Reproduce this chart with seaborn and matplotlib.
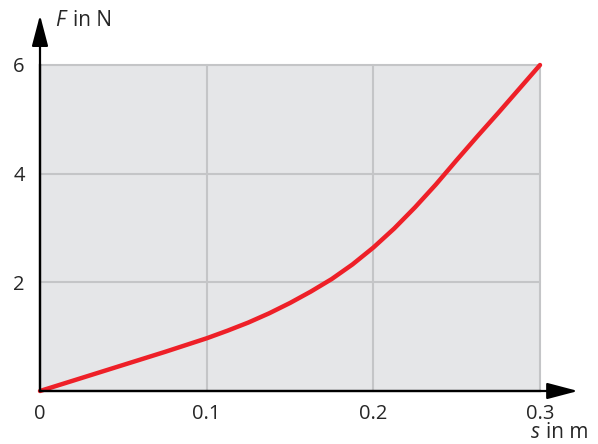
import numpy as np
import pandas as pd
import matplotlib
matplotlib.use("Agg")
import matplotlib.pyplot as plt
import seaborn as sns

# ── Data ───────────────────────────────────────────────────
s_values = [0.0, 0.025, 0.05, 0.075, 0.1, 0.1125, 0.125, 0.1375, 0.15, 0.1625,
            0.175, 0.1875, 0.2, 0.2125, 0.225, 0.2375, 0.25, 0.2625, 0.275,
            0.2875, 0.3]
f_values = [0.0, 0.24, 0.48, 0.72, 0.97, 1.11, 1.26, 1.43, 1.62, 1.83,
            2.06, 2.33, 2.64, 2.99, 3.38, 3.80, 4.25, 4.69, 5.12,
            5.56, 6.0]
x_ticks = [0.0, 0.1, 0.2, 0.3]
x_tick_labels = ["0", "0.1", "0.2", "0.3"]
y_ticks = [2, 4, 6]
y_tick_labels = ["2", "4", "6"]

df = pd.DataFrame({"s": s_values, "F": f_values})

sns.set_style("white", {"axes.facecolor": "#e5e6e8"})
plt.rcParams["font.family"] = ["Open Sans", "DejaVu Sans"]

fig = plt.figure(figsize=(5.98, 4.44), dpi=100)
ax = fig.add_axes([40 / 598, 53 / 444, 500 / 598, 326 / 444])

ax.set_xlim(0, 0.3)
ax.set_ylim(0, 6)
ax.set_xticks(x_ticks)
ax.set_yticks(y_ticks)
ax.set_xticklabels(x_tick_labels, fontsize=14.5)
ax.set_yticklabels(y_tick_labels, fontsize=14.5)
ax.tick_params(length=0)
ax.tick_params(axis="x", pad=9)
ax.tick_params(axis="y", pad=11)

ax.grid(True, color="#c4c5c7", linewidth=1.5)
for gl in ax.get_xgridlines() + ax.get_ygridlines():
    gl.set_clip_on(False)
ax.set_axisbelow(True)

sns.lineplot(data=df, x="s", y="F", color="#ee2028", linewidth=3.2, ax=ax,
             solid_capstyle="round", solid_joinstyle="round", clip_on=False, zorder=3)

for side in ["top", "right"]:
    ax.spines[side].set_visible(False)
for side in ["left", "bottom"]:
    ax.spines[side].set_color("black")
    ax.spines[side].set_linewidth(1.6)
    ax.spines[side].set_zorder(4)

ax.set_xlabel("")
ax.set_ylabel("")

# axis arrows
arrow = dict(arrowstyle="-|>,head_length=1.9,head_width=0.5", color="black",
             linewidth=1.6, shrinkA=0, shrinkB=0)
ax.annotate("", xy=(0, 1.153), xytext=(0, 0), xycoords="axes fraction",
            arrowprops=arrow, annotation_clip=False)
ax.annotate("", xy=(1.076, 0), xytext=(0, 0), xycoords="axes fraction",
            arrowprops=arrow, annotation_clip=False)

# axis titles
ax.text(0.03, 1.135, "F", transform=ax.transAxes, fontsize=15,
        ha="left", va="center", fontstyle="italic")
ax.text(0.066, 1.135, "in N", transform=ax.transAxes, fontsize=15,
        ha="left", va="center")
ax.text(0.982, -0.127, "s", transform=ax.transAxes, fontsize=15,
        ha="left", va="center", fontstyle="italic")
ax.text(1.012, -0.127, "in m", transform=ax.transAxes, fontsize=15,
        ha="left", va="center")

fig.savefig("out.png", dpi=100)
